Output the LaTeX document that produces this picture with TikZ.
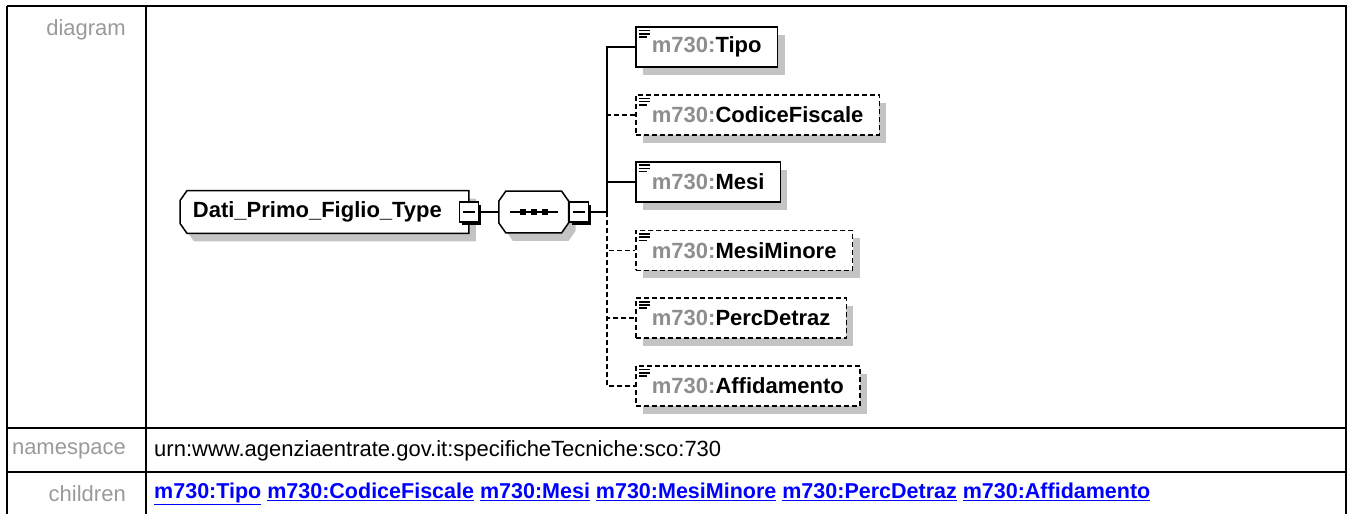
\documentclass[tikz,border=0pt]{standalone}
\usepackage{fontspec}
\setmainfont{Liberation Sans}
\usetikzlibrary{positioning, shadows, backgrounds, calc}

\definecolor{shadegray}{HTML}{C4C4C4}
\definecolor{labelgray}{HTML}{9A9A9A}
\definecolor{nsgray}{HTML}{8E8E8E}
\definecolor{linkblue}{HTML}{0000FF}

\newcommand{\elemname}[1]{{\color{nsgray}m730:}#1}
% outline of the type box (cut on the left) and of the sequence box (cut on all corners), shifted by #2,#3
\newcommand{\typeoutline}[3]{([shift={(#2,#3)}, xshift=7pt]#1.north west) -- ([shift={(#2,#3)}]#1.north east)
    -- ([shift={(#2,#3)}]#1.south east) -- ([shift={(#2,#3)}, xshift=7pt]#1.south west)
    -- ([shift={(#2,#3)}, yshift=10pt]#1.south west) -- ([shift={(#2,#3)}, yshift=-10pt]#1.north west) -- cycle}
\newcommand{\seqoutline}[3]{([shift={(#2,#3)}, xshift=7pt]#1.north west) -- ([shift={(#2,#3)}, xshift=-7pt]#1.north east)
    -- ([shift={(#2,#3)}, yshift=-10pt]#1.north east) -- ([shift={(#2,#3)}, yshift=10pt]#1.south east)
    -- ([shift={(#2,#3)}, xshift=-7pt]#1.south east) -- ([shift={(#2,#3)}, xshift=7pt]#1.south west)
    -- ([shift={(#2,#3)}, yshift=10pt]#1.south west) -- ([shift={(#2,#3)}, yshift=-10pt]#1.north west) -- cycle}

\begin{document}
\begin{tikzpicture}[
    x=1pt, y=-1pt,
    line width=1.8pt,
    shade/.style={drop shadow={shadow xshift=7pt, shadow yshift=-8pt, fill=shadegray, opacity=1}},
    elem/.style={draw, fill=white, shade, rectangle, minimum height=40pt, inner xsep=16pt, inner ysep=0pt,
        anchor=west, font=\fontsize{22}{26}\selectfont\bfseries,
        path picture={
            \foreach \k/\len in {0/11pt, 1/11pt, 2/8pt}
                \draw[solid, line width=1.6pt] ([xshift=3pt, yshift=-3.5pt-3.2pt*\k]path picture bounding box.north west) -- ++(\len,0pt);
        }},
    optline/.style={dash pattern=on 5pt off 3pt},
    optional/.style={elem, optline},
    typebox/.style={rectangle, minimum width=287pt, minimum height=41pt, inner xsep=12pt, inner ysep=0pt, anchor=west,
        text width=263pt, align=left, font=\fontsize{22}{26}\selectfont\bfseries},
    seqbox/.style={rectangle, minimum width=68pt, minimum height=40pt, inner sep=0pt},
    collapse/.style={draw, fill=white, rectangle, minimum width=19pt, minimum height=20pt, inner sep=0pt,
        line width=1.4pt,
        drop shadow={shadow xshift=2.6pt, shadow yshift=-2.6pt, fill=black, opacity=1},
        path picture={
            \draw[line width=1.4pt] ([xshift=-6pt]path picture bounding box.center) -- ([xshift=6pt]path picture bounding box.center);
        }},
    rowlabel/.style={anchor=east, text=labelgray, font=\fontsize{22}{26}\selectfont},
    rowtext/.style={anchor=west, font=\fontsize{22}{26}\selectfont},
    linktext/.style={anchor=west, text=linkblue, font=\fontsize{21.5}{25}\selectfont\bfseries},
    tableline/.style={line width=2.2pt},
]
\useasboundingbox (0,0) rectangle (1348,514);

% table frame
\draw[tableline] (7,6) -- (1346,6) -- (1346,514);
\draw[tableline] (7,6) -- (7,514);
\draw[tableline] (146,6) -- (146,514);
\draw[tableline] (7,428) -- (1346,428);
\draw[tableline] (7,472) -- (1346,472);

\node[rowlabel] (diaglabel) at (130,30) {diagram};
\node[rowlabel] (nslabel) at (130,451) {namespace};
\node[rowlabel] (kidslabel) at (130,494) {children};
\node[rowtext] (nsvalue) at (150,451) {urn:www.agenziaentrate.gov.it:specificheTecniche:sco:730};
\node[linktext] (kidsvalue) at (150,494) {\underline{m730:Tipo} \underline{m730:CodiceFiscale} \underline{m730:Mesi} \underline{m730:MesiMinore} \underline{m730:PercDetraz} \underline{m730:Affidamento}};

% type and sequence
\node[typebox] (dati) at (180,212) {Dati\_Primo\_Figlio\_Type};
\node[seqbox, right=30pt of dati] (seq) {};

\begin{scope}[on background layer]
  \fill[shadegray] \typeoutline{dati}{7pt}{-8pt};
  \fill[white] \typeoutline{dati}{0pt}{0pt};
  \fill[shadegray] \seqoutline{seq}{7pt}{-8pt};
  \fill[white] \seqoutline{seq}{0pt}{0pt};
\end{scope}
\draw[line width=1.5pt] \typeoutline{dati}{0pt}{0pt};
\draw[line width=1.5pt] \seqoutline{seq}{0pt}{0pt};
\draw ([xshift=-24pt]seq.center) -- ([xshift=24pt]seq.center);
\foreach \dx in {-11pt, 0pt, 11pt}
    \fill ([xshift=\dx]seq.center) +(-2.8pt,-2.8pt) rectangle +(2.8pt,2.8pt);

\node[collapse] (dcol) at (dati.east) {};
\node[collapse, anchor=west] (scol) at (seq.east) {};
\coordinate[right=18pt of scol] (trunk);

% children
\node[elem] (tipo) at (635,47) {\elemname{Tipo}};
\node[optional, below right=26pt and 0pt of tipo.south west] (codice) {\elemname{CodiceFiscale}};
\node[elem, below right=25pt and 0pt of codice.south west] (mesi) {\elemname{Mesi}};
\node[optional, below right=27pt and 0pt of mesi.south west] (minore) {\elemname{MesiMinore}};
\node[optional, below right=26pt and 0pt of minore.south west] (detraz) {\elemname{PercDetraz}};
\node[optional, below right=26pt and 0pt of detraz.south west] (affido) {\elemname{Affidamento}};

\draw (dcol) -- (seq);
\draw (scol) -- (trunk);
\draw (trunk) |- (tipo);
\draw (trunk) |- (mesi);
\foreach \n in {codice, minore, detraz, affido}
    \draw[optline] (trunk) |- (\n);

\end{tikzpicture}
\end{document}
